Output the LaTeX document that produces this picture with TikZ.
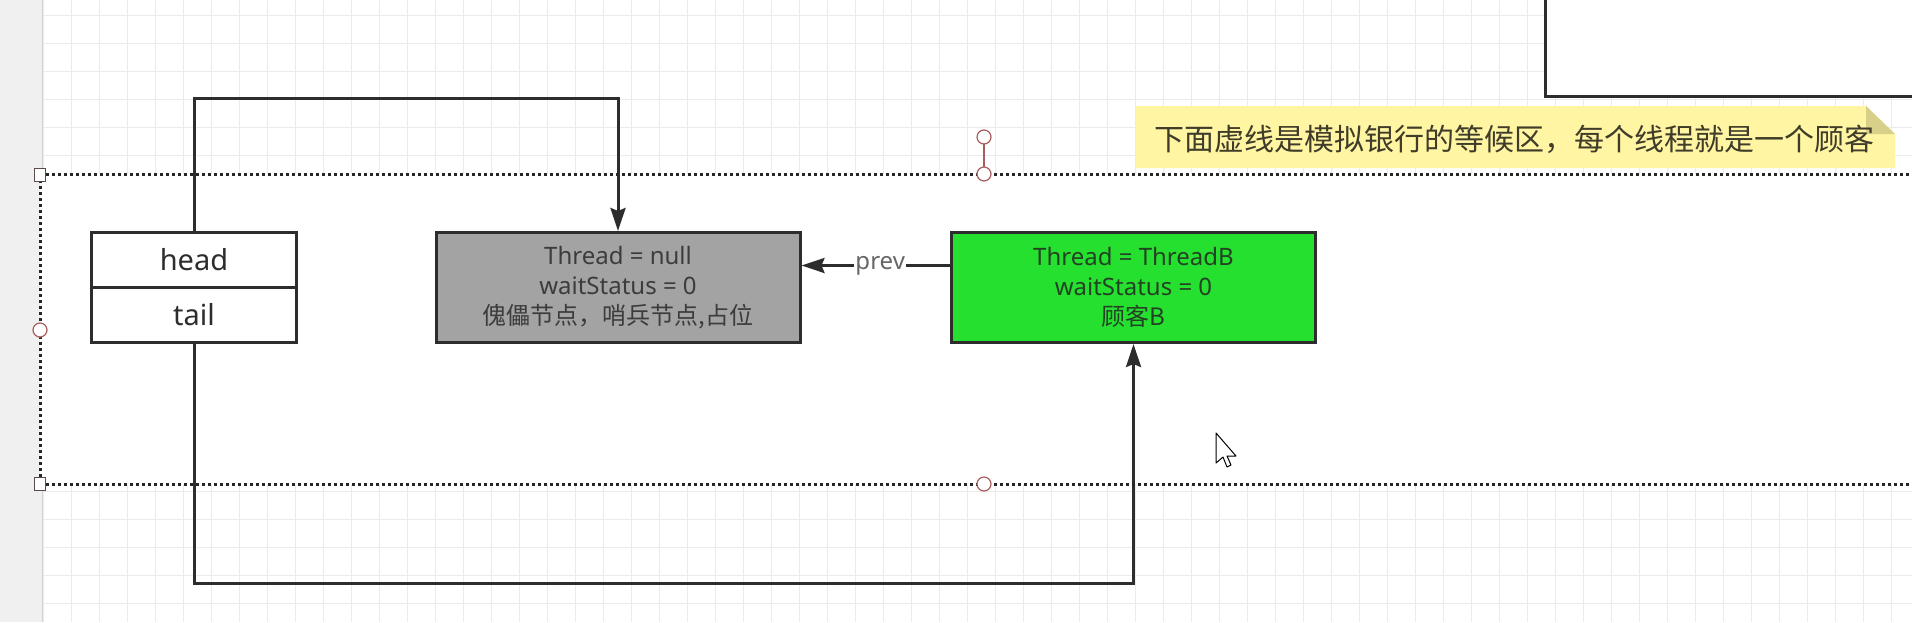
\documentclass[tikz,border=0pt]{standalone}
\usepackage{fontspec}
\setmainfont{Noto Sans}
\newfontfamily\cjk{Noto Sans CJK SC}
\usetikzlibrary{arrows.meta}
\definecolor{gridc}{HTML}{EBEBEB}
\definecolor{stripc}{HTML}{F0F0F0}
\definecolor{bordc}{HTML}{2D2D2D}
\definecolor{grayfill}{HTML}{A3A3A3}
\definecolor{grayText}{HTML}{3C3C3C}
\definecolor{greenfill}{HTML}{26E030}
\definecolor{greenText}{HTML}{234223}
\definecolor{notefill}{HTML}{FFF5A3}
\definecolor{notefold}{HTML}{D8D088}
\definecolor{noteText}{HTML}{3F3C2A}
\definecolor{handlec}{HTML}{A85C5C}
\definecolor{sqc}{HTML}{5A4A4A}
\definecolor{lblc}{HTML}{666666}
\begin{document}
\begin{tikzpicture}[x=1pt,y=-1pt,
  gridline/.style={draw=gridc,line width=1pt},
  cell/.style={draw=bordc,line width=3pt,fill=white,minimum width=205pt,minimum height=55pt,inner sep=0pt,text=bordc,font=\fontsize{29}{32}\selectfont},
  qnode/.style={draw=bordc,line width=3pt,minimum width=364pt,minimum height=110pt,inner sep=0pt,align=center,font=\fontsize{24}{30}\selectfont},
  conn/.style={draw=bordc,line width=3pt,-{Stealth[length=23pt,width=15pt,inset=3pt]}},
  dotline/.style={draw=black!85,line width=3pt,dash pattern=on 3pt off 3pt},
  hsq/.style={draw=sqc,fill=white,line width=1.4pt,minimum width=11pt,minimum height=13pt,inner sep=0pt},
  hci/.style={draw=handlec,fill=white,line width=1.2pt,circle,minimum size=14pt,inner sep=0pt},
  lbl/.style={fill=white,inner sep=1pt,text=lblc,font=\fontsize{24}{28}\selectfont}
]
\useasboundingbox (0,0) rectangle (1912,622);
\clip (0,0) rectangle (1912,622);
\fill[white] (0,0) rectangle (1912,622);
% grid
\foreach \i in {0,...,67} \draw[gridline] ({43+28*\i},0) -- ({43+28*\i},622);
\foreach \j in {0,...,22} \draw[gridline] (0,{15.3+28*\j}) -- (1912,{15.3+28*\j});
% left strip
\fill[stripc] (0,0) rectangle (42,622);
\draw[draw=gridc!90!black,line width=1pt] (42,0) -- (42,622);
% container background
\fill[white] (40,174) rectangle (1920,484);
% top-right box
\draw[draw=bordc,line width=3pt,fill=white] (1545,-10) rectangle (1930,96);
% note
\fill[notefill] (1136,106) -- (1866,106) -- (1895,134) -- (1895,168) -- (1136,168) -- cycle;
\fill[notefold] (1866,106) -- (1895,134) -- (1866,134) -- cycle;
\node[anchor=west,inner sep=0pt,text=noteText,font=\cjk\fontsize{30}{34}\selectfont] (note) at (1154,139) {下面虚线是模拟银行的等候区，每个线程就是一个顾客};
% nodes
\node[cell] (head) at (194,259.5) {head};
\node[cell] (tail) at (194,314.5) {tail};
\node[qnode,fill=grayfill,text=grayText] (gray) at (618,287.5) {Thread = null\\waitStatus = 0\\{\cjk 傀儡节点，哨兵节点,占位}};
\node[qnode,fill=greenfill,text=greenText] (green) at (1133.5,287.5) {Thread = ThreadB\\waitStatus = 0\\{\cjk 顾客B}};
% connectors
\draw[conn] (head.north) -- ++(0,-132) -| (gray.north);
\draw[conn] (tail.south) -- ++(0,240) -| (green.south);
\draw[conn] ([yshift=22pt]green.west) -- node[lbl,pos=0.47] {prev} ([yshift=22pt]gray.east);
% dotted container
\draw[dotline] (40,174) -- (1920,174);
\draw[dotline] (40,484) -- (1920,484);
\draw[dotline] (40,174) -- (40,484);
% handles
\draw[draw=handlec,line width=1.2pt] (984,144) -- (984,174);
\node[hci] (rot) at (984,137) {};
\node[hsq] (h1) at (40,175) {};
\node[hsq] (h2) at (40,484) {};
\node[hci] (h3) at (40,330) {};
\node[hci] (h4) at (984,174) {};
\node[hci] (h5) at (984,484) {};
% cursor
\draw[draw=black,fill=white,line width=1pt,line join=round] (1216,433) -- (1216,463) -- (1223,457) -- (1227,467) -- (1231,465) -- (1227,456) -- (1236,456) -- cycle;
\end{tikzpicture}
\end{document}
